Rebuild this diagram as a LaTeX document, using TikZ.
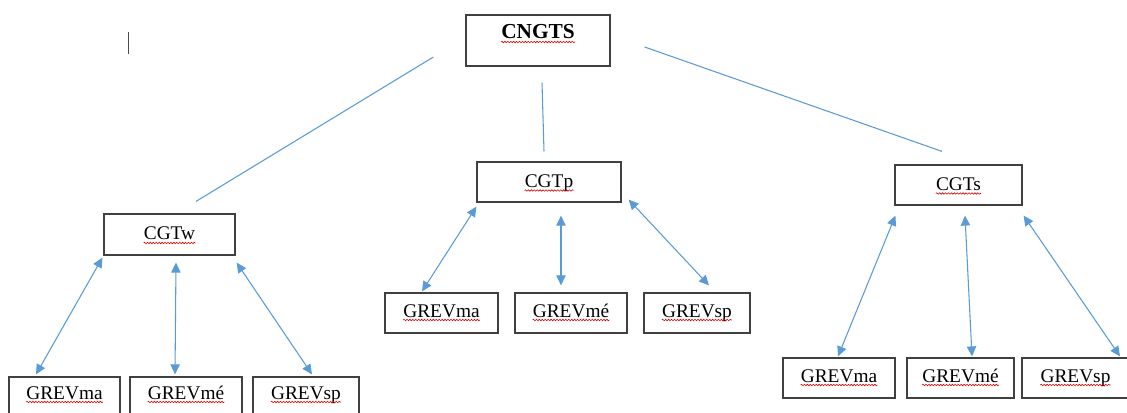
\documentclass[tikz,border=0pt]{standalone}
\usepackage{fontspec}
\setmainfont{Liberation Serif}
\usetikzlibrary{arrows.meta, calc, decorations.pathmorphing}
\definecolor{lBlue}{HTML}{5B9BD5}
\definecolor{lGray}{HTML}{404040}

\tikzset{
  box/.style={draw=lGray, line width=0.9pt, inner sep=0pt},
  lbl/.style={inner sep=0pt, anchor=base, font=\fontsize{14.5}{17}\selectfont},
  wavy/.style={red!85!black, line width=0.45pt, decorate,
    decoration={snake, amplitude=0.55pt, segment length=2.2pt}},
  link/.style={lBlue, line width=0.8pt},
  dbl/.style={lBlue, line width=0.8pt,
    {Triangle[length=7.5pt, width=7pt]}-{Triangle[length=7.5pt, width=7pt]}}
}

\begin{document}
\begin{tikzpicture}[x=0.75pt, y=-0.75pt]
  \useasboundingbox (0,0) rectangle (1127,413);
  \clip (0,0) rectangle (1127,413);

  % cursor mark
  \draw[black!70, line width=0.6pt] (128.5,32) -- (128.5,54);

  % top box
  \node[box, minimum width=144*0.75pt, minimum height=51*0.75pt] (top) at (538,40.5) {};
  \node[lbl, font=\fontsize{16}{19}\selectfont\bfseries] (top-t) at ($(top.center)+(0,-1.5)$) {CNGTS};
  \draw[wavy] ($(top-t.base west)+(0,3)$) -- ($(top-t.base east)+(0,3)$);

  % second level and leaves
  \foreach \n/\t/\x/\y/\w/\h/\o in
    {w/CGTw/169.5/234.5/131/41/5.5, p/CGTp/549/182/144/40/5.5, s/CGTs/958.5/185/127/40/5.5,
     wa/GREVma/64.5/397.5/111/41/1.5, wm/GREVmé/186/397.5/112/41/1.5, ws/GREVsp/306/397.5/106/41/1.5,
     pa/GREVma/441.5/313/113/40/4, pm/GREVmé/571/313/112/40/4, ps/GREVsp/697/313/106/40/4,
     sa/GREVma/839/378/112/40/4, sm/GREVmé/960.5/378/107/40/4, ss/GREVsp/1075.5/378/107/40/4}
  {
    \node[box, minimum width=\w*0.75pt, minimum height=\h*0.75pt] (\n) at (\x,\y) {};
    \node[lbl] (\n-t) at ($(\n.center)+(0,\o)$) {\t};
    \draw[wavy] ($(\n-t.base west)+(0,3)$) -- ($(\n-t.base east)+(0,3)$);
  }

  % lines from the top
  \draw[link] ($(top.west)+(-32,16.5)$) -- ($(w.north)+(26.5,-12)$);
  \draw[link] ($(top.south)+(4,16)$) -- ($(p.north)+(-5,-10)$);
  \draw[link] ($(top.east)+(34,6.5)$) -- ($(s.north)+(-16.5,-13)$);

  % double arrows
  \draw[dbl] ($(w.south west)+(-1,2)$) -- ($(wa.north)+(-28.5,-2)$);
  \draw[dbl] ($(w.south)+(6.5,7)$) -- ($(wm.north)+(-11,-2)$);
  \draw[dbl] ($(w.south east)+(1,7)$) -- ($(ws.north)+(6,-2)$);

  \draw[dbl] ($(p.south west)+(0,4)$) -- ($(pa.north)+(-19.5,-1)$);
  \draw[dbl] ($(p.south)+(12,13)$) -- ($(pm.north)+(-10,-7)$);
  \draw[dbl] ($(p.south east)+(7,-3)$) -- ($(ps.north)+(12,-7)$);

  \draw[dbl] ($(s.south west)+(1,10)$) -- ($(sa.north)+(-1,-1)$);
  \draw[dbl] ($(s.south)+(6.5,10)$) -- ($(sm.north)+(11.5,-1)$);
  \draw[dbl] ($(s.south east)+(1,10)$) -- ($(ss.north)+(44.5,-1)$);
\end{tikzpicture}
\end{document}
